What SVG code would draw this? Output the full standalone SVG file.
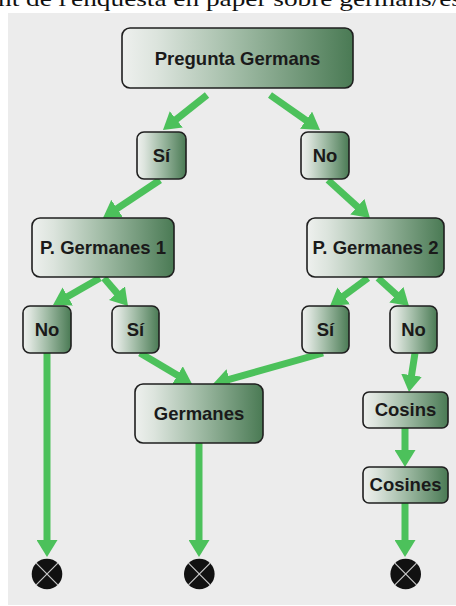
<svg xmlns="http://www.w3.org/2000/svg" width="456" height="606" viewBox="0 0 456 606">
<defs>
<linearGradient id="g" x1="0" y1="0" x2="1" y2="0">
<stop offset="0" stop-color="#eef0ee"/>
<stop offset="0.15" stop-color="#dce4dd"/>
<stop offset="0.5" stop-color="#a0bba5"/>
<stop offset="1" stop-color="#4a7a54"/>
</linearGradient>
<marker id="ah" markerUnits="userSpaceOnUse" markerWidth="18" markerHeight="21" refX="1" refY="10.5" orient="auto">
<path d="M0,0 L17,10.5 L0,21 Z" fill="#4cc15b"/>
</marker>
<style>
.box{fill:url(#g);stroke:#1f1f1f;stroke-width:1.6}
.lbl{font-family:"Liberation Sans",Arial,sans-serif;font-weight:bold;font-size:18.5px;fill:#1a1a1a;text-anchor:middle}
.c{stroke:#4cc15b;stroke-width:7;fill:none;marker-end:url(#ah)}
.end circle{fill:#111}
.end path{stroke:#c8c8c8;stroke-width:1.2}
</style>
</defs>
<rect x="0" y="0" width="456" height="606" fill="#ffffff"/>
<rect x="8" y="13" width="448" height="592" fill="#ececec"/>
<text x="-2" y="6" font-family="'Liberation Serif','Times New Roman',serif" font-size="22" fill="#111" textLength="464" lengthAdjust="spacingAndGlyphs">nt de l'enquesta en paper sobre germans/es</text>

<g id="connectors">
<line class="c" x1="207" y1="95" x2="175.5" y2="120"/>
<line class="c" x1="270" y1="95" x2="306.9" y2="120.8"/>
<line class="c" x1="160" y1="180" x2="116.3" y2="209.1"/>
<line class="c" x1="328" y1="180" x2="358.1" y2="207.3"/>
<line class="c" x1="100" y1="278" x2="66.9" y2="297"/>
<line class="c" x1="104" y1="278" x2="117.6" y2="293.9"/>
<line class="c" x1="368" y1="278" x2="342.9" y2="296.5"/>
<line class="c" x1="378" y1="278" x2="397.1" y2="295.3"/>
<line class="c" x1="47" y1="353" x2="47" y2="541"/>
<line class="c" x1="140" y1="353" x2="178.3" y2="375.8"/>
<line class="c" x1="323" y1="353" x2="228.4" y2="379.7"/>
<line class="c" x1="199" y1="443" x2="199" y2="541"/>
<line class="c" x1="415" y1="353" x2="411.4" y2="376.2"/>
<line class="c" x1="405" y1="428" x2="405" y2="451"/>
<line class="c" x1="405" y1="503" x2="405" y2="541"/>
</g>

<g id="n-pregunta"><rect class="box" x="122" y="28" width="231" height="60" rx="8"/><text class="lbl" x="237.5" y="65">Pregunta Germans</text></g>
<g id="n-si1"><rect class="box" x="137" y="132" width="49" height="47" rx="7"/><text class="lbl" x="161.5" y="162">Sí</text></g>
<g id="n-no1"><rect class="box" x="301" y="132" width="48" height="47" rx="7"/><text class="lbl" x="325" y="162">No</text></g>
<g id="n-pg1"><rect class="box" x="32" y="218" width="142" height="59" rx="8"/><text class="lbl" x="103" y="254">P. Germanes 1</text></g>
<g id="n-pg2"><rect class="box" x="307" y="218" width="137" height="59" rx="8"/><text class="lbl" x="375.5" y="254">P. Germanes 2</text></g>
<g id="n-no2"><rect class="box" x="23" y="306" width="48" height="47" rx="7"/><text class="lbl" x="47" y="336">No</text></g>
<g id="n-si2"><rect class="box" x="112" y="306" width="47" height="47" rx="7"/><text class="lbl" x="135.5" y="336">Sí</text></g>
<g id="n-si3"><rect class="box" x="302" y="306" width="47" height="47" rx="7"/><text class="lbl" x="325.5" y="336">Sí</text></g>
<g id="n-no3"><rect class="box" x="390" y="306" width="47" height="47" rx="7"/><text class="lbl" x="413.5" y="336">No</text></g>
<g id="n-germanes"><rect class="box" x="135" y="384" width="128" height="59" rx="8"/><text class="lbl" x="199" y="420">Germanes</text></g>
<g id="n-cosins"><rect class="box" x="363" y="392" width="85" height="36" rx="6"/><text class="lbl" x="405.5" y="416">Cosins</text></g>
<g id="n-cosines"><rect class="box" x="363" y="467" width="85" height="36" rx="6"/><text class="lbl" x="405.5" y="491">Cosines</text></g>

<g id="end1" class="end"><circle cx="47" cy="574" r="15.3"/><path d="M36.2,563.2 L57.8,584.8 M57.8,563.2 L36.2,584.8"/></g>
<g id="end2" class="end"><circle cx="199.3" cy="574" r="15.3"/><path d="M188.5,563.2 L210.1,584.8 M210.1,563.2 L188.5,584.8"/></g>
<g id="end3" class="end"><circle cx="405.7" cy="574" r="15.3"/><path d="M394.9,563.2 L416.5,584.8 M416.5,563.2 L394.9,584.8"/></g>
</svg>
